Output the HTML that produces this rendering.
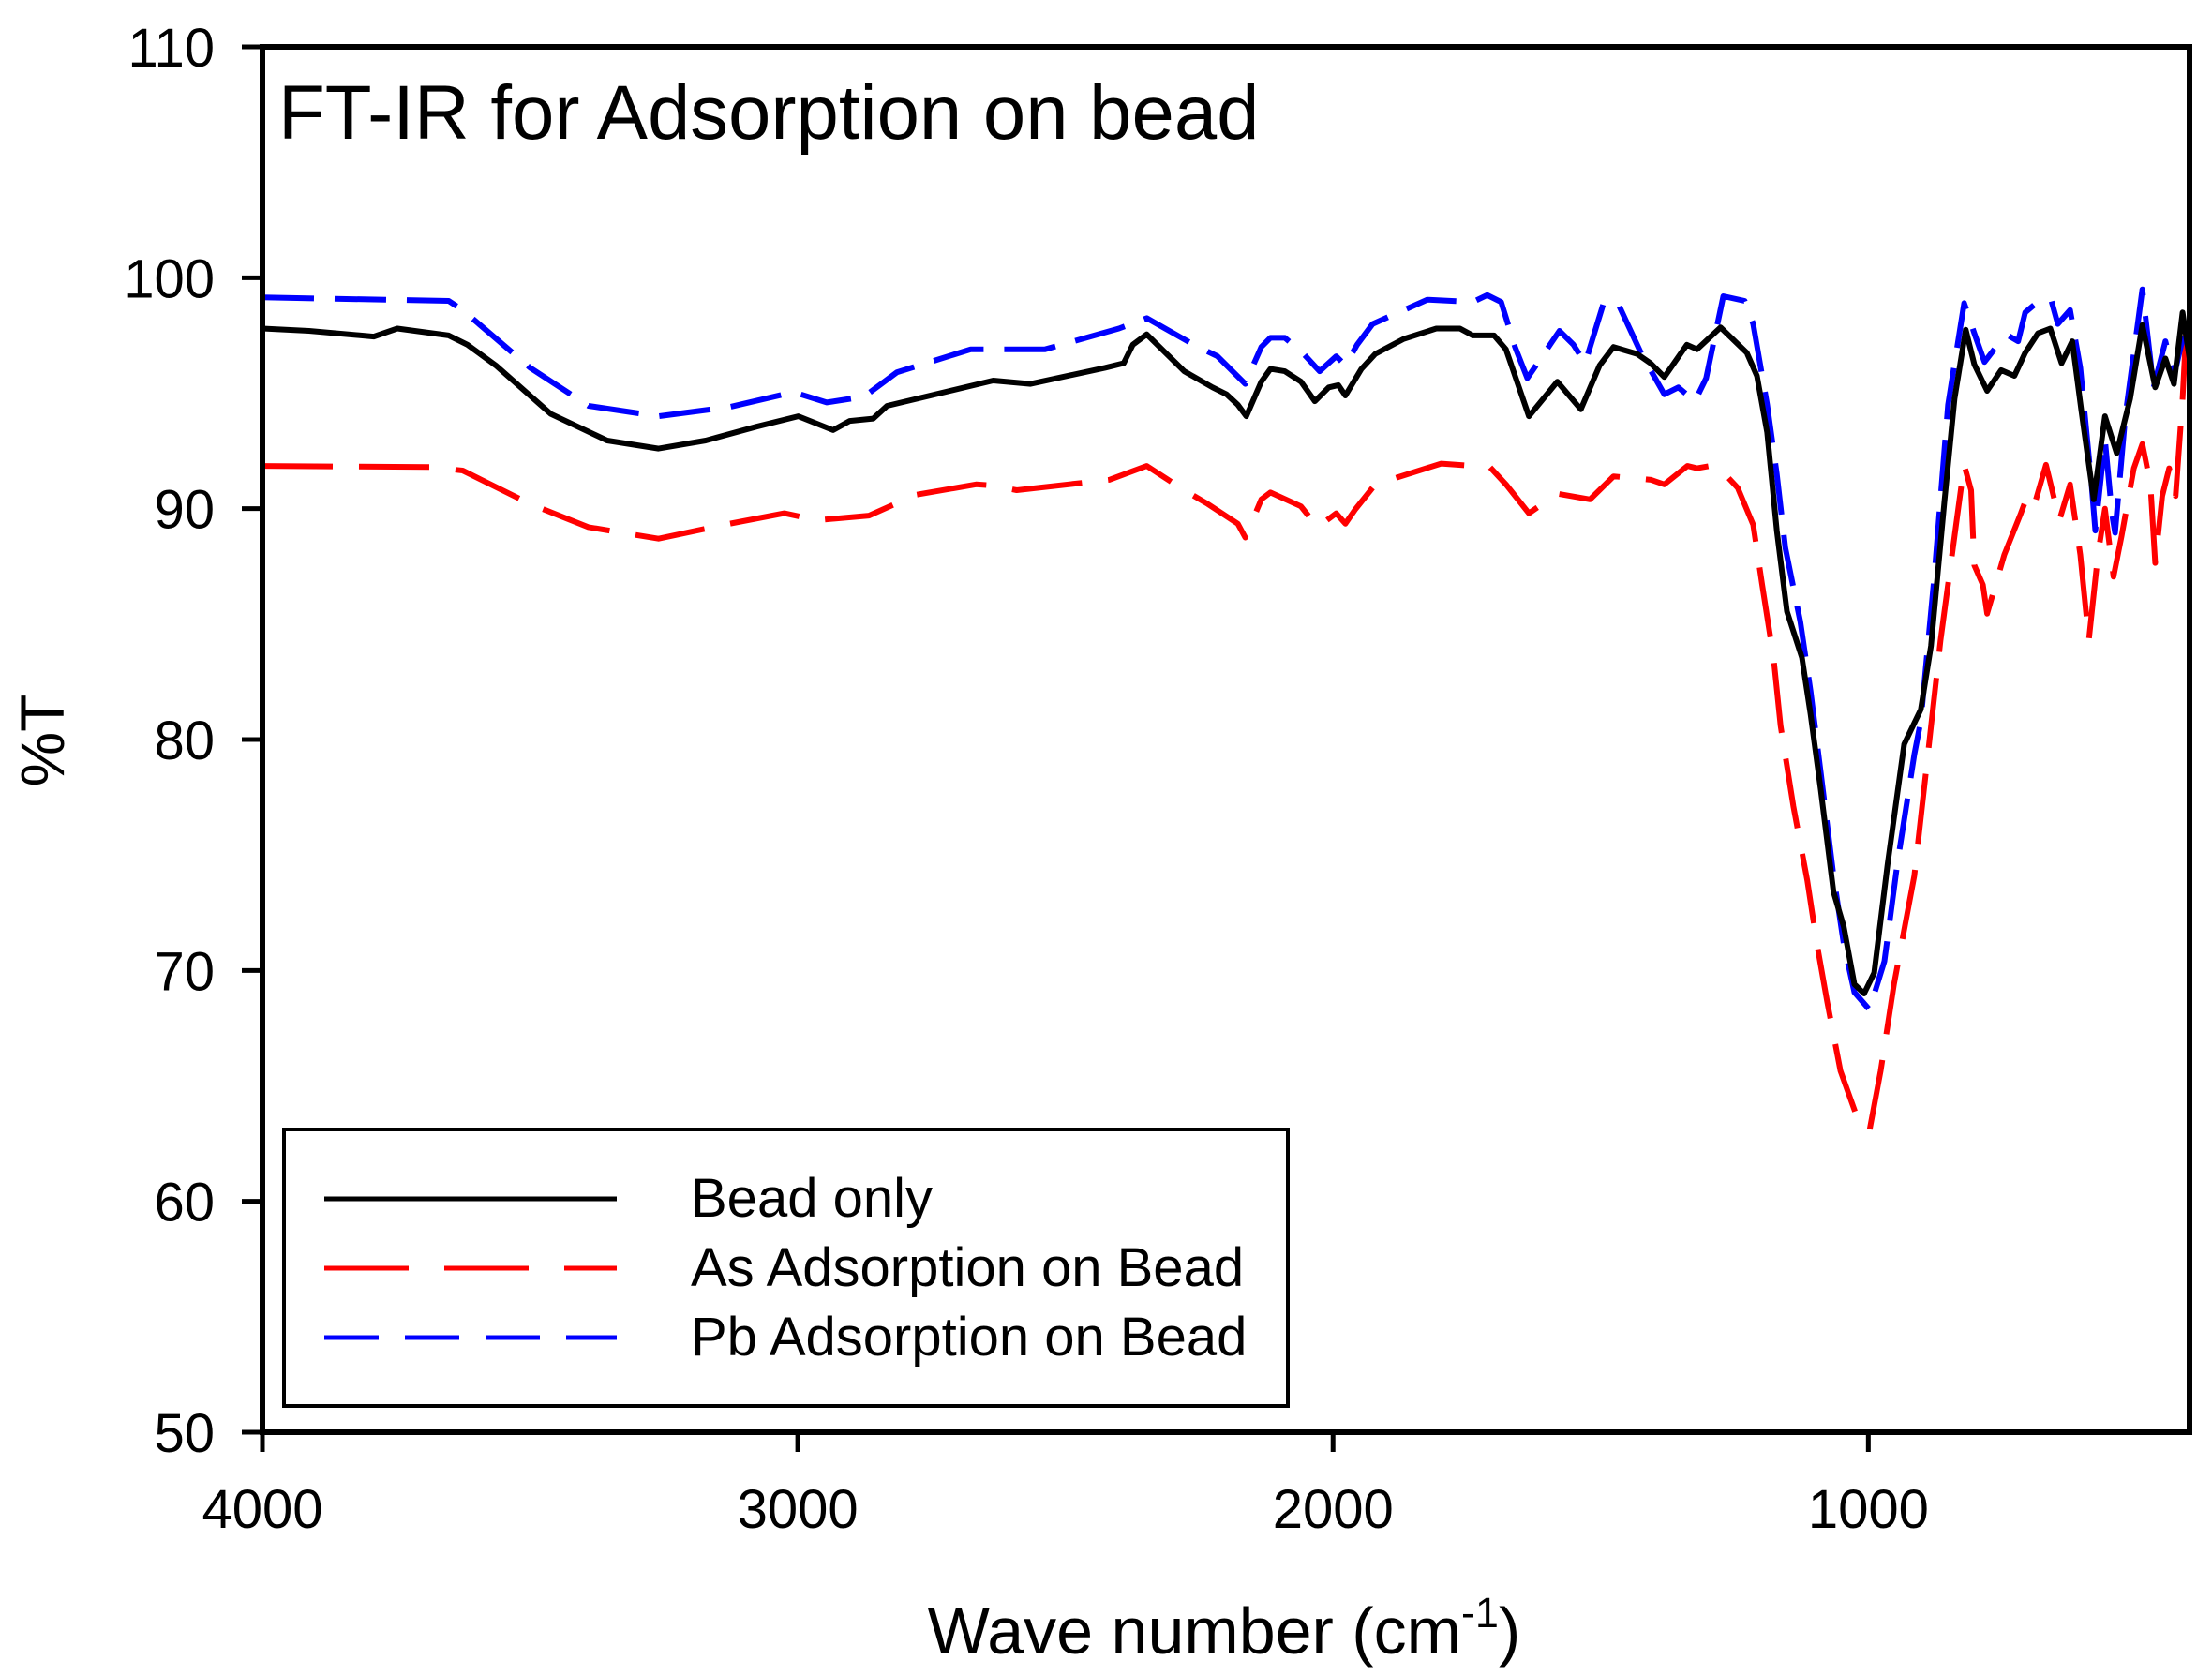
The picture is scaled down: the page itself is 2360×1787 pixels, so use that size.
<!DOCTYPE html>
<html><head><meta charset="utf-8"><style>
html,body{margin:0;padding:0;background:#fff;}
svg{display:block;font-family:"Liberation Sans",Arial,sans-serif;}
</style></head><body>
<svg id="chart" width="2360" height="1787" viewBox="0 0 2360 1787" xmlns="http://www.w3.org/2000/svg">
<rect width="2360" height="1787" fill="#fff"/>
<g id="series"></g>
<g id="axes"></g>
<text x="297" y="148" font-size="81.5">FT-IR for Adsorption on bead</text>
<text x="1306" y="1764" font-size="70" text-anchor="middle">Wave number (cm<tspan dy="-28" font-size="45">-1</tspan><tspan dy="28">)</tspan></text>
<text transform="translate(68,790) rotate(-90)" font-size="66" text-anchor="middle">%T</text>
<g>
<rect x="303" y="1205" width="1071" height="295" fill="#fff" stroke="#000" stroke-width="4"/>
<g>
<line x1="346" y1="1279" x2="658" y2="1279" stroke="#000" stroke-width="5"/>
<text x="737" y="1298" font-size="58">Bead only</text></g>
<g>
<line x1="346" y1="1353" x2="658" y2="1353" stroke="#f00" stroke-width="5" stroke-dasharray="90,38"/>
<text x="737" y="1372" font-size="58">As Adsorption on Bead</text></g>
<g>
<line x1="346" y1="1427" x2="658" y2="1427" stroke="#00f" stroke-width="5" stroke-dasharray="58,28"/>
<text x="737" y="1446" font-size="58">Pb Adsorption on Bead</text></g>
</g>
</svg>
<script>
const yTicks = [50,60,70,80,90,100,110];
const xTicks = [4000,3000,2000,1000];
const beadWN = [4000,3913,3792,3748,3652,3617,3564,3461,3356,3260,3172,3077,2999,2934,2903,2859,2833,2635,2565,2426,2391,2374,2348,2278,2225,2199,2178,2162,2134,2117,2090,2060,2034,2008,1990,1977,1947,1921,1868,1807,1763,1739,1699,1677,1634,1581,1537,1502,1476,1432,1407,1381,1339,1320,1276,1227,1208,1189,1171,1152,1124,1108,1089,1065,1046,1026,1008,989,964,933,902,883,858,839,818,802,778,752,727,707,683,660,639,619,602,579,558,536,511,488,464,445,429,413,400];
const beadT = [97.8,97.7,97.45,97.8,97.5,97.1,96.2,94.1,92.95,92.6,92.95,93.55,94.0,93.4,93.8,93.9,94.45,95.55,95.4,96.1,96.3,97.1,97.55,95.95,95.25,94.95,94.5,94.0,95.5,96.05,95.95,95.5,94.65,95.25,95.35,94.9,96.05,96.7,97.35,97.8,97.8,97.5,97.5,96.9,94.0,95.5,94.3,96.2,97.0,96.7,96.3,95.7,97.1,96.9,97.85,96.75,95.75,93.3,89.05,85.55,83.55,81.1,77.85,73.4,71.9,69.4,69.0,69.9,74.6,79.8,81.3,84.05,90.25,94.75,97.75,96.25,95.1,96.0,95.75,96.75,97.6,97.8,96.3,97.25,94.25,90.4,94.0,92.4,94.75,97.95,95.25,96.5,95.4,98.5,96.5];
const asWN = [4000,3687,3626,3500,3391,3260,3138,3025,2963,2867,2780,2667,2635,2591,2418,2348,2278,2234,2178,2164,2134,2117,2060,2029,1994,1977,1959,1921,1798,1707,1677,1634,1581,1520,1476,1406,1381,1338,1320,1284,1244,1215,1199,1177,1164,1140,1114,1096,1077,1052,1021,998,977,952,914,890,865,839,821,808,802,786,778,746,715,703,690,668,643,623,604,588,571,558,542,527,504,488,473,464,451,438,426,413,404];
const asT = [91.85,91.8,91.65,90.2,89.2,88.7,89.3,89.8,89.5,89.7,90.6,91.05,91.0,90.8,91.25,91.85,90.8,90.2,89.35,88.75,90.4,90.7,90.1,89.2,89.8,89.35,89.95,91.05,91.95,91.8,91.05,89.8,90.65,90.4,91.4,91.25,91.05,91.85,91.75,91.9,90.9,89.3,86.8,83.55,80.6,77.1,73.9,71.15,68.65,65.65,63.65,63.05,65.65,69.4,74.1,79.1,84.3,88.8,91.9,90.8,87.55,86.7,85.45,88.0,89.8,90.55,90.15,91.9,89.5,91.05,88.0,84.3,88.0,90.0,87.05,88.8,91.75,92.8,91.05,87.65,90.55,91.75,90.55,94.75,98.75];
const pbWN = [4000,3652,3626,3500,3391,3260,3128,3008,2946,2876,2815,2677,2635,2538,2400,2348,2260,2216,2164,2155,2134,2117,2090,2055,2025,1994,1977,1955,1926,1824,1739,1712,1686,1660,1637,1577,1551,1529,1494,1468,1424,1381,1355,1324,1303,1271,1231,1215,1189,1171,1155,1127,1108,1089,1065,1046,1026,998,970,946,914,902,877,851,821,802,783,758,739,720,707,676,658,646,623,604,583,576,558,545,539,520,501,488,467,445,429,404];
const pbT = [99.15,99.0,98.6,96.1,94.45,94.0,94.4,95.05,94.6,94.85,95.9,96.9,96.9,96.9,97.8,98.25,97.1,96.6,95.4,95.9,97.0,97.4,97.4,96.7,95.95,96.6,96.2,97.1,98.0,99.05,98.95,99.25,98.95,97.0,95.65,97.7,97.1,96.3,98.95,98.9,96.7,94.95,95.25,94.65,95.65,99.2,99.0,98.0,94.5,91.5,88.3,85.1,82.1,78.6,74.1,71.15,69.05,68.3,70.4,74.6,79.35,80.8,87.0,94.5,98.9,97.6,96.35,97.1,97.5,97.25,98.5,99.1,99.0,98.0,98.6,96.1,91.05,89.05,93.0,89.8,88.95,94.0,97.25,99.5,95.25,97.25,95.75,98.2];

const NS = 'http://www.w3.org/2000/svg';
const L = 280, R = 2336, T = 50, B = 1528;
function xs(w){ return L + (4000 - w) * (R - L) / 3600; }
function ys(v){ return B - (v - 50) * (B - T) / 60; }
const series = document.getElementById('series');
function addLine(wn, t, color, dash, name){
  const p = document.createElementNS(NS, 'path');
  let d = '';
  for (let i = 0; i < wn.length; i++) d += (i ? 'L' : 'M') + xs(wn[i]).toFixed(1) + ',' + ys(t[i]).toFixed(1);
  p.setAttribute('d', d);
  p.setAttribute('fill', 'none');
  p.setAttribute('stroke', color);
  p.setAttribute('stroke-width', '6');
  p.setAttribute('stroke-linejoin', 'round');
  if (dash) p.setAttribute('stroke-dasharray', dash);
  
  
  series.appendChild(p);
}
addLine(asWN, asT, '#f00', '75,28', 'as-adsorption-line');
addLine(pbWN, pbT, '#00f', '55,22', 'pb-adsorption-line');
addLine(beadWN, beadT, '#000', null, 'bead-only-line');

const axes = document.getElementById('axes');
const frame = document.createElementNS(NS, 'rect');
frame.setAttribute('x', L); frame.setAttribute('y', T);
frame.setAttribute('width', R - L); frame.setAttribute('height', B - T);
frame.setAttribute('fill', 'none'); frame.setAttribute('stroke', '#000'); frame.setAttribute('stroke-width', '6');


axes.appendChild(frame);
yTicks.forEach(v => {
  const y = ys(v);
  const l = document.createElementNS(NS, 'line');
  l.setAttribute('x1', 258); l.setAttribute('x2', L); l.setAttribute('y1', y); l.setAttribute('y2', y);
  l.setAttribute('stroke', '#000'); l.setAttribute('stroke-width', '5');
  
  
  axes.appendChild(l);
  const t = document.createElementNS(NS, 'text');
  t.setAttribute('x', 229); t.setAttribute('y', y + 21);
  t.setAttribute('font-size', '58'); t.setAttribute('text-anchor', 'end');
  t.textContent = v;
  
  
  axes.appendChild(t);
});
xTicks.forEach(v => {
  const x = xs(v);
  const l = document.createElementNS(NS, 'line');
  l.setAttribute('x1', x); l.setAttribute('x2', x); l.setAttribute('y1', B); l.setAttribute('y2', 1549);
  l.setAttribute('stroke', '#000'); l.setAttribute('stroke-width', '5');
  
  
  axes.appendChild(l);
  const t = document.createElementNS(NS, 'text');
  t.setAttribute('x', x); t.setAttribute('y', 1630);
  t.setAttribute('font-size', '58'); t.setAttribute('text-anchor', 'middle');
  t.textContent = v;
  
  
  axes.appendChild(t);
});
</script>
</body></html>
